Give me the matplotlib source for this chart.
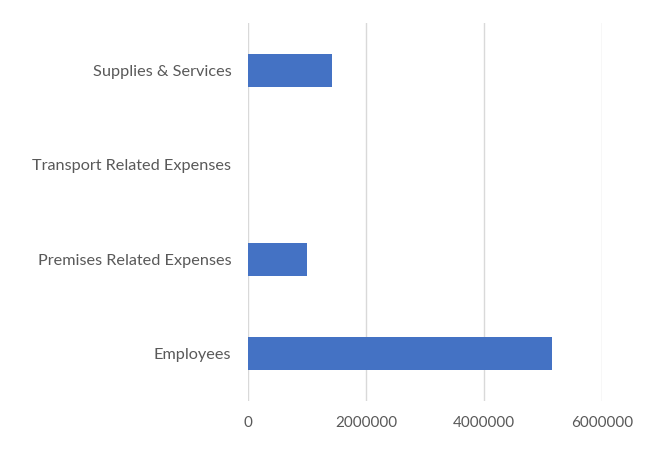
import matplotlib.pyplot as plt

categories = ["Employees", "Premises Related Expenses", "Transport Related Expenses", "Supplies & Services"]
values = [5147000, 1000000, 0, 1430000]
xticks = [0, 2000000, 4000000, 6000000]

plt.rcParams["font.family"] = ["Lato", "DejaVu Sans"]

fig = plt.figure(figsize=(6.5, 4.53), dpi=100)
ax = fig.add_axes([0.3815, 0.1155, 0.5446, 0.8335])

ax.barh(range(len(categories)), values, height=0.35, color="#4472C4", zorder=3)
ax.set_yticks(range(len(categories)))
ax.set_yticklabels(categories)
ax.set_ylim(-0.5, len(categories) - 0.5)
ax.set_xlim(0, 6000000)
ax.set_xticks(xticks)
ax.set_xticklabels([str(t) for t in xticks])

ax.grid(axis="x", color="#D9D9D9", linewidth=1.0, zorder=0)
for s in ax.spines.values():
    s.set_visible(False)
ax.tick_params(axis="both", length=0, colors="#595959")
ax.tick_params(axis="y", pad=12, labelsize=11.7)
ax.tick_params(axis="x", pad=11, labelsize=11)

fig.savefig("out.png", dpi=100)
